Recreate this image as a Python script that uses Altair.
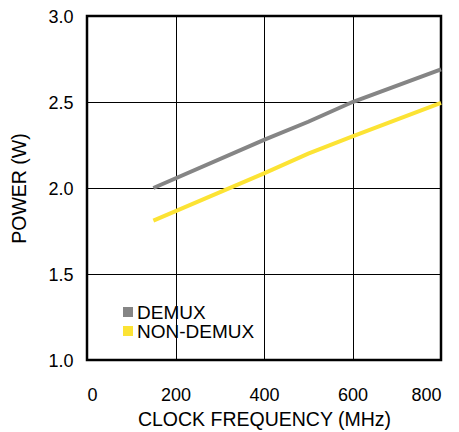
import altair as alt
import pandas as pd

demux_x = [150, 400, 500, 600, 800]
demux_y = [2.00, 2.28, 2.385, 2.50, 2.69]
nondemux_x = [150, 400, 500, 600, 800]
nondemux_y = [1.81, 2.085, 2.20, 2.30, 2.495]
series = ["DEMUX", "NON-DEMUX"]
colors = ["#858585", "#FCE334"]

rows = []
for x, y in zip(demux_x, demux_y):
    rows.append({"f": x, "p": y, "s": series[0]})
for x, y in zip(nondemux_x, nondemux_y):
    rows.append({"f": x, "p": y, "s": series[1]})
df = pd.DataFrame(rows)
leg = pd.DataFrame({"s": series})

FONT = "Liberation Sans"
cscale = alt.Scale(domain=series, range=colors)

lines = alt.Chart(df).mark_line(strokeWidth=4).encode(
    x=alt.X("f:Q", scale=alt.Scale(domain=[0, 800], nice=False),
            axis=alt.Axis(values=[0, 200, 400, 600, 800], title="CLOCK FREQUENCY (MHz)",
                          labelPadding=26, titlePadding=6, ticks=False, domain=False,
                          gridColor="#000000", gridOpacity=1, gridWidth=1)),
    y=alt.Y("p:Q", scale=alt.Scale(domain=[1.0, 3.0], nice=False),
            axis=alt.Axis(values=[1.0, 1.5, 2.0, 2.5, 3.0], format=".1f", title="POWER (W)",
                          labelPadding=14, titlePadding=18, ticks=False, domain=False,
                          labelOffset=1.5,
                          gridColor="#000000", gridOpacity=1, gridWidth=1)),
    color=alt.Color("s:N", scale=cscale, legend=None),
)

legy = alt.Y("s:N", scale=alt.Scale(type="point", domain=series, range=[296, 315], padding=0),
             axis=None)
leg_sym = alt.Chart(leg).mark_square(size=100, opacity=1).encode(
    x=alt.value(41), y=legy, color=alt.Color("s:N", scale=cscale, legend=None),
)
leg_txt = alt.Chart(leg).mark_text(align="left", baseline="middle", font=FONT,
                                   fontSize=19, color="#000000", dy=1).encode(
    x=alt.value(50), y=legy, text="s:N",
)

chart = alt.layer(lines, leg_sym, leg_txt).resolve_scale(y="independent").properties(
    width=354, height=344,
    autosize=alt.AutoSizeParams(type="none"),
    padding={"left": 79, "top": 8, "right": 5, "bottom": 72},
).configure_view(
    stroke="#000000", strokeWidth=2.5
).configure_axis(
    labelFont=FONT, titleFont=FONT, labelFontSize=18, titleFontSize=19.5,
    labelColor="#000000", titleColor="#000000", titleFontWeight="normal"
)

chart.save("out.html", embed_options={"renderer": "svg", "actions": False})
